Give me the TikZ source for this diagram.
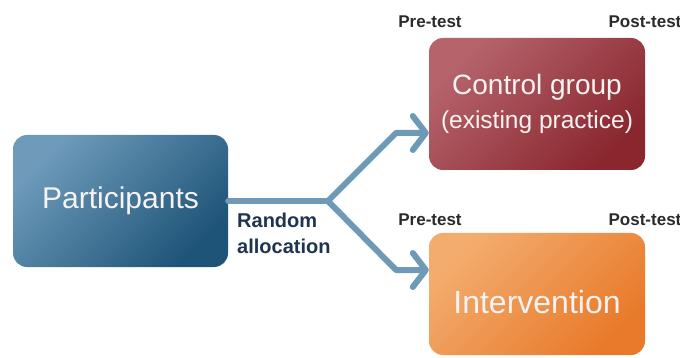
\documentclass[tikz,border=0pt]{standalone}
\usepackage{fontspec}
\setmainfont{Liberation Sans}
\usetikzlibrary{arrows.meta}
\definecolor{pA}{HTML}{6E9BBA}
\definecolor{pB}{HTML}{1E5478}
\definecolor{cA}{HTML}{B5646C}
\definecolor{cB}{HTML}{8A262E}
\definecolor{iA}{HTML}{F3AC6E}
\definecolor{iB}{HTML}{E87A2A}
\definecolor{connc}{HTML}{6E9AB8}
\definecolor{labc}{HTML}{1E3550}
\definecolor{tstc}{HTML}{2B2B2B}
\definecolor{boxtext}{HTML}{F7F3F3}
\begin{document}
\begin{tikzpicture}[x=1pt,y=-1pt,
  box/.style={rounded corners=14pt, inner sep=0pt, text=boxtext, align=center},
  diag/.style={shading=axis, shading angle=45},
  connline/.style={draw=connc, line width=6pt, line cap=round, line join=round},
  tip/.style={-{Straight Barb[length=13pt,width=34pt,line cap=round,line join=round]}},
  tlab/.style={font=\bfseries\fontsize{17}{20}\selectfont, text=tstc, inner sep=0pt},
  alab/.style={font=\bfseries\fontsize{20}{26}\selectfont, text=labc, align=left, inner sep=0pt}]
\useasboundingbox[fill=white] (0,0) rectangle (680,358);
\node[box, top color=pA, bottom color=pB, diag, minimum width=215pt, minimum height=132pt,
  font=\fontsize{30}{36}\selectfont] (P) at (120.5,201) {Participants};
\node[box, top color=cA, bottom color=cB, diag, minimum width=216pt, minimum height=132pt,
  font=\fontsize{28}{34}\selectfont] (C) at (537,104) {Control group\\{\fontsize{24.5}{30}\selectfont (existing practice)}};
\node[box, top color=iA, bottom color=iB, diag, minimum width=216pt, minimum height=122pt,
  text height=39pt, text depth=0pt,
  font=\fontsize{32}{38}\selectfont] (I) at (537,294) {Intervention};
\coordinate (split) at (328,201);
\coordinate (bu) at (396,133);
\coordinate (bd) at (396,270);
\draw[connline] (P.east) -- (split);
\draw[connline, tip] (split) -- (bu) -- (C.west |- bu);
\draw[connline, tip] (split) -- (bd) -- (I.west |- bd);
\node[alab, anchor=north west] (ra) at (237,213) {Random\\allocation};
\node[tlab] (pre1) at (430,22) {Pre-test};
\node[tlab] (post1) at (645,22) {Post-test};
\node[tlab] (pre2) at (430,220) {Pre-test};
\node[tlab] (post2) at (645,220) {Post-test};
\end{tikzpicture}
\end{document}
